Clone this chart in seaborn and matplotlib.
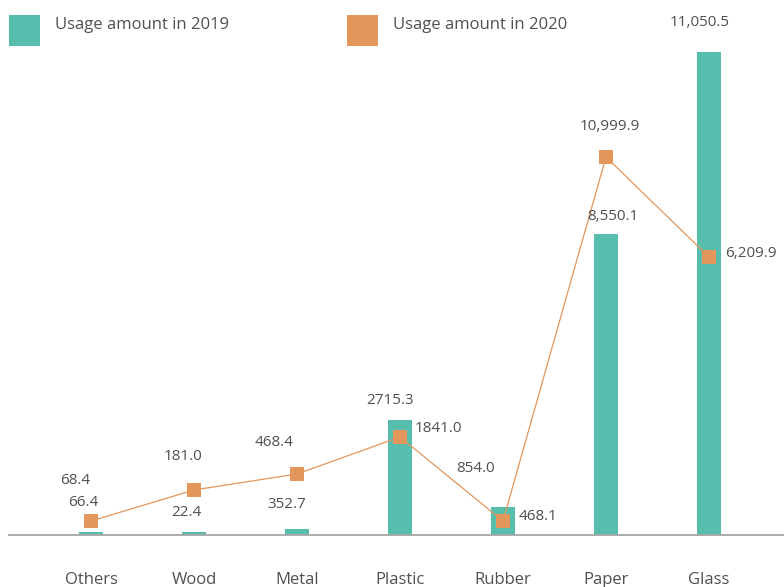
import numpy as np
import pandas as pd
import matplotlib
matplotlib.use("Agg")
import matplotlib.pyplot as plt
from matplotlib.patches import Rectangle
import seaborn as sns

sns.set_theme(style="white")
plt.rcParams["font.family"] = ["Open Sans", "DejaVu Sans"]

TEAL = "#57bdac"
ORANGE = "#e3975c"
TEXT = "#505050"

# ---------------------------------------------------------------------------
# data (heights, printed labels as they appear)
# ---------------------------------------------------------------------------
categories = ["Others", "Wood", "Metal", "Plastic", "Rubber", "Paper", "Glass"]
usage_2019 = [70, 70, 140, 2631, 641, 6887, 11050.5]      # bar heights
usage_2020 = [320, 1030, 1396, 2242, 320, 8648, 6360]     # line points
labels_a = ["68.4", "181.0", "468.4", "2715.3", "854.0", "10,999.9", "11,050.5"]
labels_b = ["66.4", "22.4", "352.7", "1841.0", "468.1", "8,550.1", "6,209.9"]

# label offsets (pixels) from the category centre / baseline-scale reference
off_a = [(-16, 480), (-11, 457), (-23, 442), (-10, 400), (-27, 469), (4, 127), (-9, 22)]
off_b = [(-8, 502), (-8, 512), (-10, 505), (15, 428), (16, 517), (7, 216), (16, 253)]
align_b = ["center", "center", "center", "left", "left", "center", "left"]

df = pd.DataFrame({"category": categories, "y2019": usage_2019, "y2020": usage_2020})
df["pos"] = np.arange(len(df))

# ---------------------------------------------------------------------------
# figure
# ---------------------------------------------------------------------------
W, H = 784, 587
fig = plt.figure(figsize=(W / 100, H / 100), dpi=100)
base_px = 535
ax = fig.add_axes([9 / W, (H - base_px) / H, 1 - 9 / W, base_px / H])

sns.barplot(data=df, x="pos", y="y2019", color=TEAL, width=24 / 103,
            saturation=1, ax=ax, native_scale=True, linewidth=0)
sns.lineplot(data=df, x="pos", y="y2020", color=ORANGE, lw=0.9, marker="s",
             markersize=9.5, markeredgewidth=0, ax=ax)

ymax = 11050.5 * base_px / 483
ax.set_ylim(0, ymax)
ax.set_xlim(-82 / 103, (W - 91) / 103)

for s in ["top", "right", "left"]:
    ax.spines[s].set_visible(False)
ax.spines["bottom"].set_color("#a6a6a6")
ax.spines["bottom"].set_linewidth(1.3)
ax.set_yticks([])
ax.set_xticks(df["pos"])
ax.set_xticklabels(categories, fontsize=12, color=TEXT)
ax.tick_params(axis="x", length=0, pad=27)
ax.set_xlabel("")
ax.set_ylabel("")

# data labels, placed in pixel space relative to each category centre
def px_to_data_y(py):
    return (base_px - py) / base_px * ymax

for i in range(len(categories)):
    dx, py = off_a[i]
    ax.text(i + dx / 103, px_to_data_y(py), labels_a[i], ha="center",
            va="center", fontsize=11, color=TEXT)
    dx, py = off_b[i]
    ax.text(i + dx / 103, px_to_data_y(py), labels_b[i], ha=align_b[i],
            va="center", fontsize=11, color=TEXT)

# legend drawn as squares + text at the top
for x0, col, txt in [(9, TEAL, "Usage amount in 2019"), (347, ORANGE, "Usage amount in 2020")]:
    fig.add_artist(Rectangle((x0 / W, 1 - 46 / H), 31 / W, 31 / H,
                             transform=fig.transFigure, color=col, lw=0))
    fig.text((x0 + 46) / W, 1 - 25 / H, txt, ha="left", va="center",
             fontsize=12, color=TEXT)

fig.savefig("out.png", dpi=100)
